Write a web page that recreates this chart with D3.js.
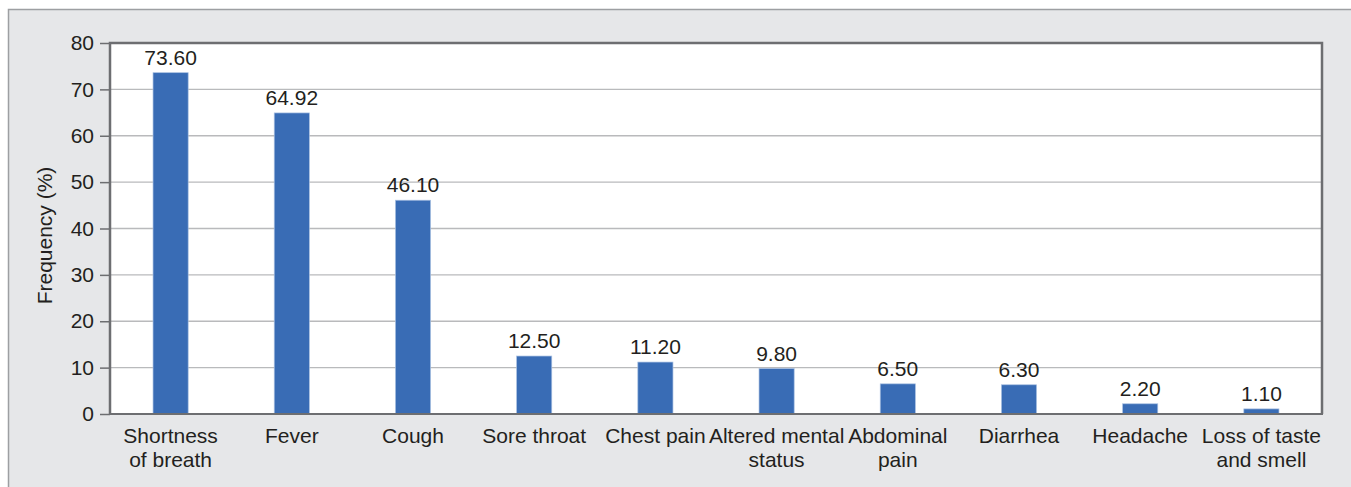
<!DOCTYPE html>
<html><head><meta charset="utf-8">
<script src="https://cdn.jsdelivr.net/npm/d3@7"></script>
<style>body{margin:0;background:#fff;}svg{display:block;font-family:"Liberation Sans",Arial,sans-serif;}</style>
</head><body>
<svg id="c" width="1351" height="487"></svg>
<script>
const categories = [["Shortness","of breath"],["Fever"],["Cough"],["Sore throat"],["Chest pain"],["Altered mental","status"],["Abdominal","pain"],["Diarrhea"],["Headache"],["Loss of taste","and smell"]];
const values = [73.60,64.92,46.10,12.50,11.20,9.80,6.50,6.30,2.20,1.10];
const valueLabels = ["73.60","64.92","46.10","12.50","11.20","9.80","6.50","6.30","2.20","1.10"];
const yTicks = [0,10,20,30,40,50,60,70,80];
const yTitle = "Frequency (%)";

const svg = d3.select("#c");
svg.append("rect").attr("x",8.5).attr("y",9.5).attr("width",1360).attr("height",500)
  .attr("fill","#e6e7e9").attr("stroke","#9d9fa2").attr("stroke-width",1.5);

const L=110,R=1322,T=43,B=414;
const x = d3.scaleBand().domain(d3.range(categories.length)).range([L,R]).paddingInner(0.71).paddingOuter(0.355);
const y = d3.scaleLinear().domain([0,80]).range([B,T]);

svg.append("rect").attr("x",L).attr("y",T).attr("width",R-L).attr("height",B-T).attr("fill","#fff");

svg.append("g").selectAll("line").data(yTicks.filter(d=>d>0&&d<80)).join("line")
  .attr("x1",L).attr("x2",R).attr("y1",d=>y(d)).attr("y2",d=>y(d))
  .attr("stroke","#b9babc").attr("stroke-width",1.3);

const ax = svg.append("g").attr("transform",`translate(${L},0)`)
  .call(d3.axisLeft(y).tickValues(yTicks).tickSize(10).tickPadding(6));
ax.select(".domain").remove();
ax.selectAll(".tick line").attr("stroke","#6d6e71").attr("stroke-width",1.5);
ax.selectAll(".tick text").attr("font-size",21).attr("fill","#231f20").attr("font-family","Liberation Sans, Arial, sans-serif");

svg.append("g").selectAll("rect").data(values).join("rect")
  .attr("x",(d,i)=>x(i)).attr("width",x.bandwidth())
  .attr("y",d=>y(d)).attr("height",d=>B-y(d))
  .attr("fill","#396cb5").attr("stroke","#a9c0e2").attr("stroke-width",0.7);

// frame
svg.append("path").attr("d",`M${L},${B}V${T}H${R}V${B}`).attr("fill","none").attr("stroke","#6d6e71").attr("stroke-width",2.5);
svg.append("line").attr("x1",L-1).attr("x2",R+1).attr("y1",B).attr("y2",B).attr("stroke","#6d6e71").attr("stroke-width",2);

svg.append("g").selectAll("text").data(values).join("text")
  .attr("x",(d,i)=>x(i)+x.bandwidth()/2).attr("y",d=>y(d)-8)
  .attr("text-anchor","middle").attr("font-size",21).attr("fill","#231f20")
  .text((d,i)=>valueLabels[i]);

const cg = svg.append("g").selectAll("text").data(categories).join("text")
  .attr("text-anchor","middle").attr("font-size",21).attr("fill","#231f20");
cg.each(function(lines,i){
  const t=d3.select(this);
  lines.forEach((s,k)=>t.append("tspan").attr("x",x(i)+x.bandwidth()/2).attr("y",443+k*23.5).text(s));
});

svg.append("text").attr("transform",`translate(52,${(T+B)/2+7}) rotate(-90)`)
  .attr("text-anchor","middle").attr("font-size",21).attr("fill","#231f20").text(yTitle);
</script>
</body></html>
